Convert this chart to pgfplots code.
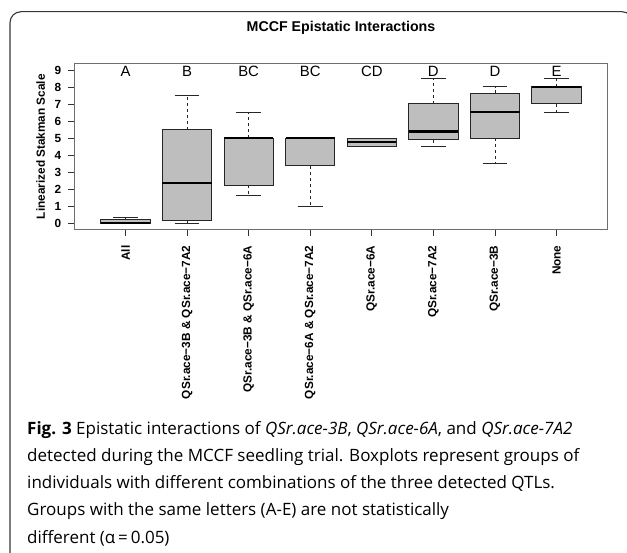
\documentclass[border=0pt]{standalone}
\usepackage{pgfplots}
\pgfplotsset{compat=1.18}
\usepgfplotslibrary{statistics}
\usepackage{fontspec}
\setmainfont{Liberation Sans}
\newfontfamily\capfont{Open Sans}
\definecolor{boxgray}{RGB}{190,190,190}
\definecolor{framegray}{RGB}{55,55,55}
\definecolor{axgray}{RGB}{110,110,110}
\begin{document}
\begin{tikzpicture}
\path[use as bounding box] (0pt,0pt) rectangle (627pt,552pt);
\draw[framegray, line width=1.1pt, rounded corners=11pt] (633pt,-20pt) -- (633pt,540.3pt) -- (10pt,540.3pt) -- (10pt,-20pt);
\begin{axis}[
  at={(75pt,322.7pt)}, anchor=south west,
  width=532pt, height=165.3pt, scale only axis,
  xmin=0.18, xmax=8.82, ymin=-0.36, ymax=9.36,
  xtick={1,2,3,4,5,6,7,8},
  xticklabels={All, QSr.ace−3B \& QSr.ace−7A2, QSr.ace−3B \& QSr.ace−6A, QSr.ace−6A \& QSr.ace−7A2, QSr.ace−6A, QSr.ace−7A2, QSr.ace−3B, None},
  ytick={0,1,2,3,4,5,6,7,8,9},
  /pgf/number format/assume math mode=true,
  tick align=outside, xtick pos=bottom, ytick pos=left,
  major tick length=7pt,
  tick style={black!80, line width=0.8pt},
  axis line style={axgray, line width=1pt},
  yticklabel style={font=\bfseries\fontsize{11.8}{12}\selectfont, inner sep=0pt, xshift=-6.5pt},
  xticklabel style={font=\bfseries\fontsize{11.8}{12}\selectfont, rotate=90, anchor=east, inner sep=0pt, xshift=-9pt},
  ylabel={Linearized Stakman Scale},
  ylabel style={font=\bfseries\fontsize{11.8}{12}\selectfont, at={(axis description cs:-0.0564,0.5)}, anchor=base, inner sep=0pt},
  title={MCCF Epistatic Interactions},
  title style={font=\bfseries\fontsize{14.2}{15}\selectfont, at={(axis description cs:0.5,1)}, anchor=base, yshift=26.7pt, inner sep=0pt},
  boxplot/draw direction=y,
  boxplot/box extend=0.8,
  boxplot/whisker extend=0.4,
  boxplot/every box/.style={draw=black!85, fill=boxgray, line width=0.8pt},
  boxplot/every median/.style={black, line width=2.4pt},
  boxplot/draw/lower whisker/.code={%
    \draw[black!85, line width=0.7pt, dash pattern=on 3pt off 3pt] (boxplot box cs:\pgfplotsboxplotvalue{lower quartile},0.5) -- (boxplot box cs:\pgfplotsboxplotvalue{lower whisker},0.5);
    \draw[black!85, line width=0.8pt] (boxplot whisker cs:\pgfplotsboxplotvalue{lower whisker},0) -- (boxplot whisker cs:\pgfplotsboxplotvalue{lower whisker},1);
  },
  boxplot/draw/upper whisker/.code={%
    \draw[black!85, line width=0.7pt, dash pattern=on 3pt off 3pt] (boxplot box cs:\pgfplotsboxplotvalue{upper quartile},0.5) -- (boxplot box cs:\pgfplotsboxplotvalue{upper whisker},0.5);
    \draw[black!85, line width=0.8pt] (boxplot whisker cs:\pgfplotsboxplotvalue{upper whisker},0) -- (boxplot whisker cs:\pgfplotsboxplotvalue{upper whisker},1);
  },
]
\addplot[boxplot prepared={draw position=1, lower whisker=0, lower quartile=0, median=0, upper quartile=0.2, upper whisker=0.35}] coordinates {};
\addplot[boxplot prepared={draw position=2, lower whisker=0, lower quartile=0.14, median=2.37, upper quartile=5.5, upper whisker=7.5}] coordinates {};
\addplot[boxplot prepared={draw position=3, lower whisker=1.65, lower quartile=2.24, median=5.0, upper quartile=5.0, upper whisker=6.53}] coordinates {};
\addplot[boxplot prepared={draw position=4, lower whisker=1.0, lower quartile=3.37, median=5.0, upper quartile=5.0, upper whisker=5.0}] coordinates {};
\addplot[boxplot prepared={draw position=5, lower whisker=4.53, lower quartile=4.53, median=4.76, upper quartile=5.0, upper whisker=5.0}] coordinates {};
\addplot[boxplot prepared={draw position=6, lower whisker=4.53, lower quartile=4.92, median=5.39, upper quartile=7.02, upper whisker=8.5}] coordinates {};
\addplot[boxplot prepared={draw position=7, lower whisker=3.5, lower quartile=5.0, median=6.53, upper quartile=7.63, upper whisker=8.02}] coordinates {};
\addplot[boxplot prepared={draw position=8, lower whisker=6.53, lower quartile=7.02, median=8.02, upper quartile=8.02, upper whisker=8.5}] coordinates {};
\foreach \x/\l in {1/A,2/B,3/BC,4/BC,5/CD,6/D,7/D,8/E}{
  \edef\temp{\noexpand\node[anchor=base, inner sep=0pt, font=\noexpand\fontsize{14.9}{15}\noexpand\selectfont] at (axis cs:\x,8.65) {\l};}
  \temp
}
\end{axis}
\begin{scope}[every node/.style={anchor=base west, inner sep=0pt, font=\capfont\fontsize{17}{20}\selectfont}]
\node at (27pt,117pt) {\textbf{Fig. 3} Epistatic interactions of \textit{QSr.ace-3B}, \textit{QSr.ace-6A}, and \textit{QSr.ace-7A2}};
\node at (27pt,90pt) {detected during the MCCF seedling trial. Boxplots represent groups of};
\node at (27pt,63pt) {individuals with different combinations of the three detected QTLs.};
\node at (27pt,36pt) {Groups with the same letters (A-E) are not statistically};
\node at (27pt,9pt) {different (α\,=\,0.05)};
\end{scope}
\end{tikzpicture}
\end{document}
